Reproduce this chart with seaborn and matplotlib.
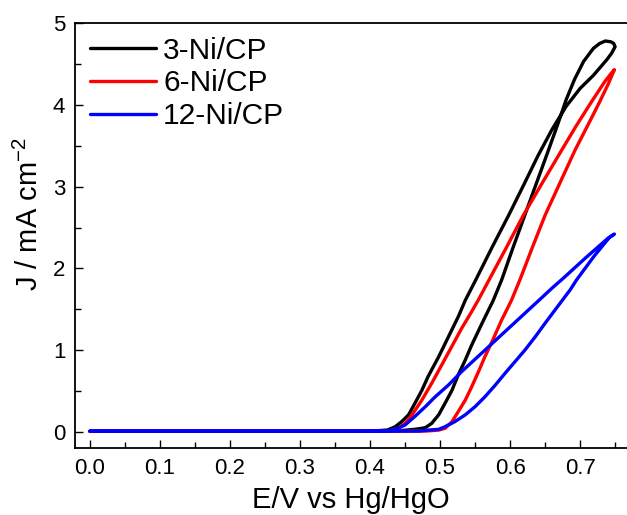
import seaborn as sns
import pandas as pd
import matplotlib.pyplot as plt
from matplotlib.ticker import MultipleLocator, FormatStrFormatter

# CV loops: forward (anodic) branch then reverse branch
samples = ['3-Ni/CP', '6-Ni/CP', '12-Ni/CP']
colors = ['#000000', '#ff0000', '#0000ff']

e_fwd_3 = [0.0, 0.2, 0.4, 0.44, 0.464, 0.479, 0.488, 0.498, 0.507, 0.517, 0.526, 0.536,
           0.545, 0.560, 0.576, 0.588, 0.604, 0.621, 0.638, 0.655, 0.668, 0.680, 0.692,
           0.705, 0.719, 0.728, 0.736, 0.744, 0.748, 0.75]
j_fwd_3 = [0.01, 0.01, 0.01, 0.015, 0.033, 0.053, 0.106, 0.21, 0.35, 0.51, 0.70, 0.88,
           1.06, 1.33, 1.61, 1.86, 2.25, 2.65, 3.05, 3.45, 3.76, 4.06, 4.31, 4.53, 4.69,
           4.75, 4.78, 4.77, 4.75, 4.71]
e_rev_3 = [0.745, 0.738, 0.728, 0.719, 0.700, 0.680, 0.660, 0.640, 0.620, 0.598, 0.575,
           0.551, 0.536, 0.526, 0.512, 0.498, 0.483, 0.474, 0.464, 0.455, 0.445, 0.436,
           0.425, 0.4, 0.2, 0.0]
j_rev_3 = [4.63, 4.55, 4.45, 4.36, 4.20, 3.98, 3.70, 3.38, 3.03, 2.65, 2.27,
           1.86, 1.61, 1.41, 1.165, 0.92, 0.68, 0.51, 0.35, 0.21, 0.126, 0.065,
           0.025, 0.01, 0.01, 0.01]

e_fwd_6 = [0.0, 0.2, 0.4, 0.48, 0.498, 0.507, 0.517, 0.526, 0.536, 0.545, 0.555, 0.564,
           0.574, 0.588, 0.602, 0.614, 0.632, 0.650, 0.672, 0.693, 0.711, 0.727, 0.740,
           0.749]
j_fwd_6 = [0.01, 0.01, 0.01, 0.012, 0.024, 0.045, 0.126, 0.25, 0.39, 0.55, 0.74, 0.92,
           1.10, 1.37, 1.61, 1.86, 2.26, 2.65, 3.06, 3.45, 3.75, 4.02, 4.25, 4.43]
e_rev_6 = [0.744, 0.735, 0.715, 0.695, 0.674, 0.647, 0.619, 0.595, 0.570, 0.555, 0.545,
           0.531, 0.517, 0.503, 0.489, 0.474, 0.460, 0.450, 0.440, 0.428, 0.4, 0.2, 0.0]
j_rev_6 = [4.38, 4.28, 4.02, 3.75, 3.45, 3.06, 2.65, 2.26, 1.86, 1.62, 1.47,
           1.27, 1.05, 0.83, 0.61, 0.39, 0.21, 0.106, 0.045, 0.015, 0.01, 0.01, 0.01]

e_fwd_12 = [0.0, 0.2, 0.4, 0.47, 0.483, 0.498, 0.507, 0.521, 0.536, 0.550, 0.564, 0.579,
            0.593, 0.607, 0.621, 0.636, 0.650, 0.664, 0.686, 0.695, 0.720, 0.742, 0.749]
j_fwd_12 = [0.01, 0.01, 0.01, 0.012, 0.024, 0.033, 0.065, 0.126, 0.21, 0.31, 0.43, 0.575,
            0.72, 0.86, 1.00, 1.165, 1.33, 1.49, 1.74, 1.86, 2.15, 2.38, 2.42]
e_rev_12 = [0.740, 0.708, 0.676, 0.660, 0.645, 0.626, 0.607, 0.588, 0.569, 0.550, 0.531,
            0.512, 0.493, 0.479, 0.464, 0.450, 0.436, 0.425, 0.4, 0.2, 0.0]
j_rev_12 = [2.37, 2.13, 1.88, 1.76, 1.64, 1.49, 1.34, 1.19, 1.04, 0.89, 0.74,
            0.575, 0.43, 0.31, 0.19, 0.086, 0.033, 0.015, 0.01, 0.01, 0.01]

loops = [
    (e_fwd_3 + e_rev_3, j_fwd_3 + j_rev_3),
    (e_fwd_6 + e_rev_6, j_fwd_6 + j_rev_6),
    (e_fwd_12 + e_rev_12, j_fwd_12 + j_rev_12),
]

sns.set_style('ticks')
plt.rcParams['font.family'] = ['Liberation Sans', 'DejaVu Sans']
plt.rcParams['mathtext.default'] = 'regular'
plt.rcParams['xtick.direction'] = 'in'
plt.rcParams['ytick.direction'] = 'in'
for key in ['text.color', 'axes.labelcolor', 'xtick.color', 'ytick.color', 'axes.edgecolor']:
    plt.rcParams[key] = 'black'

fig = plt.figure(figsize=(6.27, 5.15), dpi=100)
ax = fig.add_axes([75 / 627, 1 - 448.4 / 515, 552 / 627, 425.4 / 515])

for name, color, (e, j) in zip(samples, colors, loops):
    df = pd.DataFrame({'E': e, 'J': j})
    sns.lineplot(data=df, x='E', y='J', sort=False, estimator=None,
                 color=color, lw=2.4, label=name, ax=ax)

ax.set_xlim(-0.0214, 0.767)
ax.set_ylim(-0.2, 5)
ax.xaxis.set_major_locator(MultipleLocator(0.1))
ax.xaxis.set_minor_locator(MultipleLocator(0.05))
ax.yaxis.set_major_locator(MultipleLocator(1))
ax.yaxis.set_minor_locator(MultipleLocator(0.5))
ax.xaxis.set_major_formatter(FormatStrFormatter('%.1f'))
ax.yaxis.set_major_formatter(FormatStrFormatter('%d'))
ax.tick_params(which='major', length=6, width=1, labelsize=16, pad=7)
ax.tick_params(which='minor', length=4, width=1)

for side in ['left', 'bottom', 'top']:
    ax.spines[side].set_linewidth(1.3)
ax.spines['right'].set_visible(False)

ax.set_xlabel('E/V vs Hg/HgO', fontsize=21, labelpad=5)
ax.set_ylabel('J / mA cm$^{-2}$', fontsize=21)
ax.yaxis.set_label_coords(-0.056, 0.55)

ax.legend(loc='upper left', bbox_to_anchor=(0.027, 0.968), frameon=False,
          fontsize=21.5, handlelength=2.23, handletextpad=0.22,
          labelspacing=0.16, borderpad=0, borderaxespad=0)

fig.savefig('out.png', dpi=100)
